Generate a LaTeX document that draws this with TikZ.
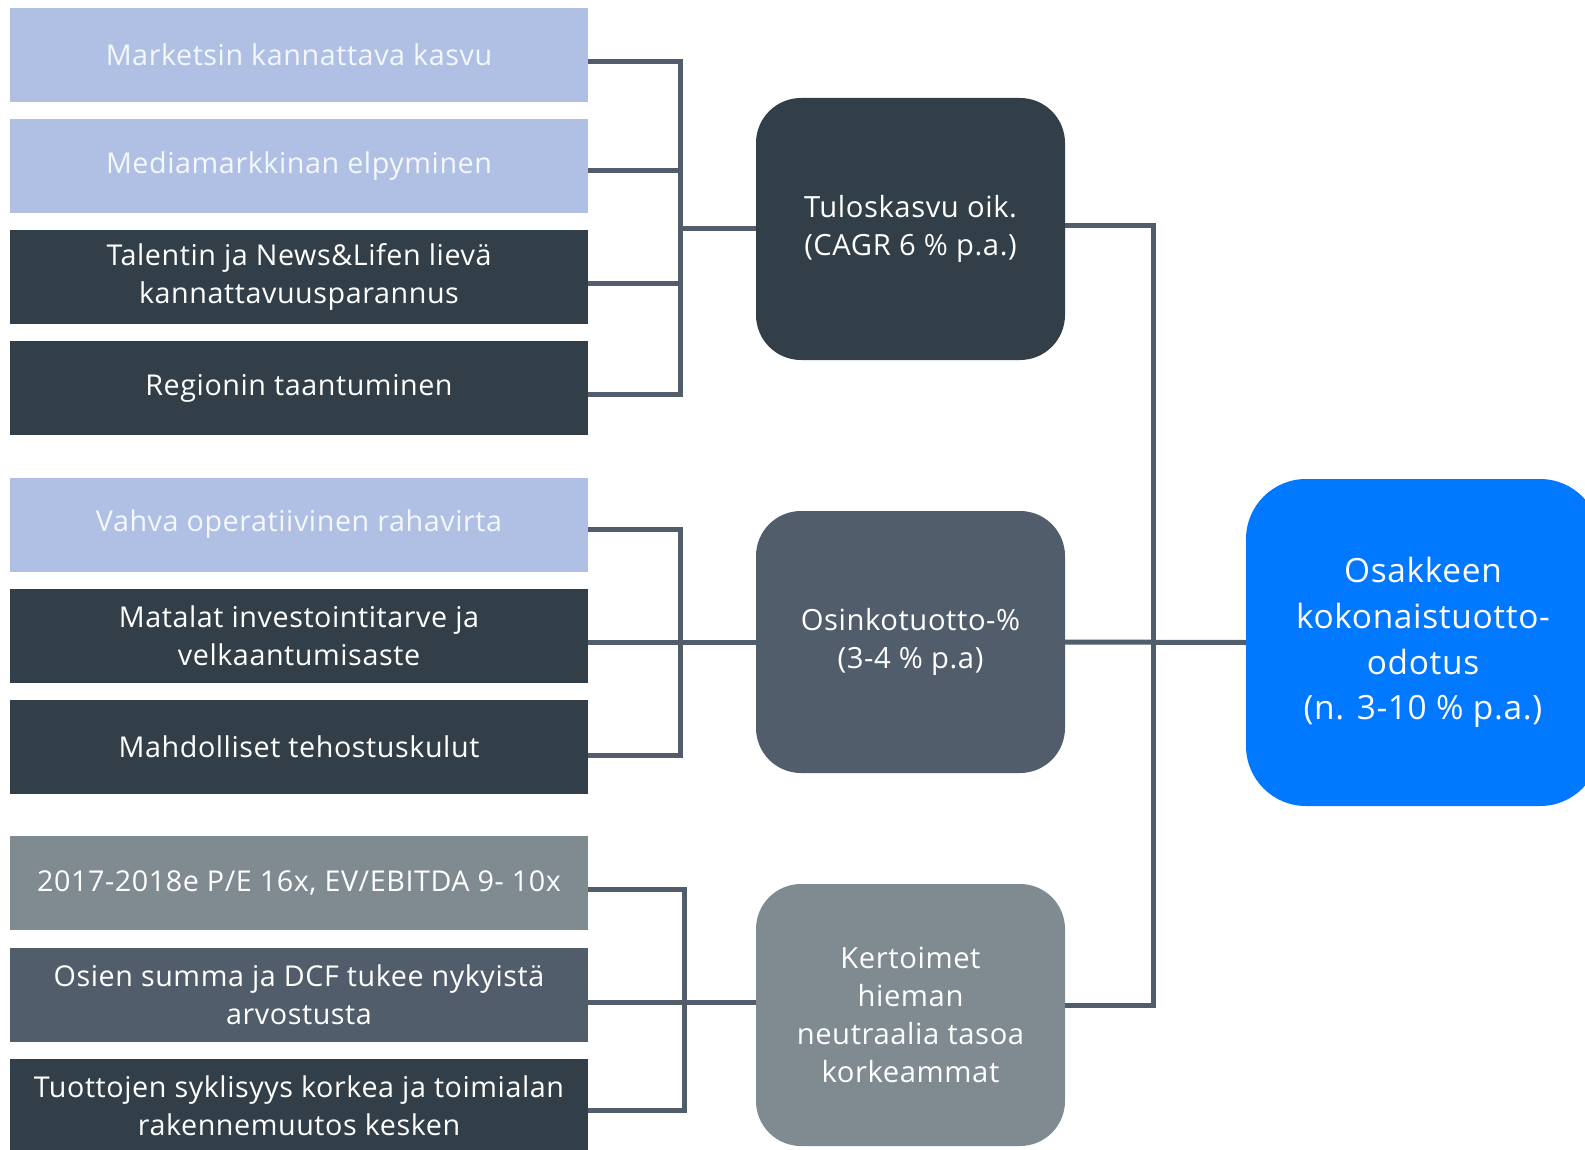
\documentclass[tikz,border=0pt]{standalone}
\usepackage{fontspec}
\setmainfont[LetterSpace=2,Ligatures={NoCommon}]{Open Sans}
\usetikzlibrary{calc}
\definecolor{lightb}{HTML}{B0C0E4}
\definecolor{darkb}{HTML}{323E48}
\definecolor{slateb}{HTML}{525D6C}
\definecolor{grayb}{HTML}{7F8A91}
\definecolor{blueb}{HTML}{0078FF}
\definecolor{linec}{HTML}{525D6C}
\definecolor{lighttext}{HTML}{F4F7FC}
\begin{document}
\begin{tikzpicture}[x=1pt,y=-1pt,
 lbox/.style={rectangle, minimum width=578pt, minimum height=94pt, inner sep=0pt, text=white, font=\fontsize{28.7}{38}\selectfont, align=center},
 mbox/.style={rectangle, rounded corners=45pt, minimum width=309pt, minimum height=262pt, inner sep=0pt, text=white, font=\fontsize{29.2}{37.8}\selectfont, align=center},
 rbox/.style={rectangle, rounded corners=60pt, minimum width=354pt, minimum height=327pt, inner sep=0pt, text=white, font=\fontsize{33.4}{45.8}\selectfont, align=center},
 conn/.style={draw=linec, line width=5pt}]
\useasboundingbox (0,0) rectangle (1585,1150);
\clip (0,0) rectangle (1585,1150);
\fill[white] (0,0) rectangle (1585,1150);
% left boxes
\node[lbox, fill=lightb, text=lighttext] (b1) at (299,55) {Marketsin kannattava kasvu};
\node[lbox, fill=lightb, text=lighttext] (b2) at (299,166) {Mediamarkkinan elpyminen};
\node[lbox, fill=darkb] (b3) at (299,277) {Talentin ja News\&Lifen lievä\\kannattavuusparannus};
\node[lbox, fill=darkb] (b4) at (299,388) {Regionin taantuminen};
\node[lbox, fill=lightb, text=lighttext] (b5) at (299,524.5) {Vahva operatiivinen rahavirta};
\node[lbox, fill=darkb] (b6) at (299,636) {Matalat investointitarve ja\\velkaantumisaste};
\node[lbox, fill=darkb] (b7) at (299,747) {Mahdolliset tehostuskulut};
\node[lbox, fill=grayb] (b8) at (299,883) {2017-2018e P/E 16x, EV/EBITDA 9- 10x};
\node[lbox, fill=slateb] (b9) at (299,994.5) {Osien summa ja DCF tukee nykyistä\\arvostusta};
\node[lbox, fill=darkb] (b10) at (299,1106) {Tuottojen syklisyys korkea ja toimialan\\rakennemuutos kesken};
% middle boxes
\node[mbox, fill=darkb] (A) at (910.5,229) {Tuloskasvu oik.\\(CAGR 6 \% p.a.)};
\node[mbox, fill=slateb] (B) at (910.5,642) {Osinkotuotto-\%\\(3-4 \% p.a)};
\node[mbox, fill=grayb] (C) at (910.5,1015) {Kertoimet\\hieman\\neutraalia tasoa\\korkeammat};
% right box
\node[rbox, fill=blueb] (R) at (1423,642.5) {Osakkeen\\kokonaistuotto-\\odotus\\(n. 3-10 \% p.a.)};
% junctions
\coordinate (j1) at (680,229);
\coordinate (j2) at (680,642);
\coordinate (j3) at (684,1002.7);
\coordinate (j4) at (1153,642);
% group 1
\draw[conn] ($(b1.east)+(0,6.7)$) -| (j1);
\draw[conn] ($(b2.east)+(0,4.8)$) -| (j1);
\draw[conn] ($(b3.east)+(0,7)$) -| (j1);
\draw[conn] ($(b4.east)+(0,6)$) -| (j1);
\draw[conn] (j1) -- (A.west |- j1);
% group 2
\draw[conn] ($(b5.east)+(0,5.2)$) -| (j2);
\draw[conn] ($(b6.east)+(0,6)$) -| (j2);
\draw[conn] ($(b7.east)+(0,8)$) -| (j2);
\draw[conn] (j2) -- (B.west |- j2);
% group 3
\draw[conn] ($(b8.east)+(0,6.5)$) -| (j3);
\draw[conn] ($(b9.east)+(0,8.2)$) -| (j3);
\draw[conn] ($(b10.east)+(0,4)$) -| (j3);
\draw[conn] (j3) -- (C.west |- j3);
% right side
\draw[conn] ($(A.east)+(0,-3.6)$) -| (j4);
\draw[conn] ($(C.east)+(0,-9.3)$) -| (j4);
\draw[conn] (B.east) -- (R.west);
\end{tikzpicture}
\end{document}
